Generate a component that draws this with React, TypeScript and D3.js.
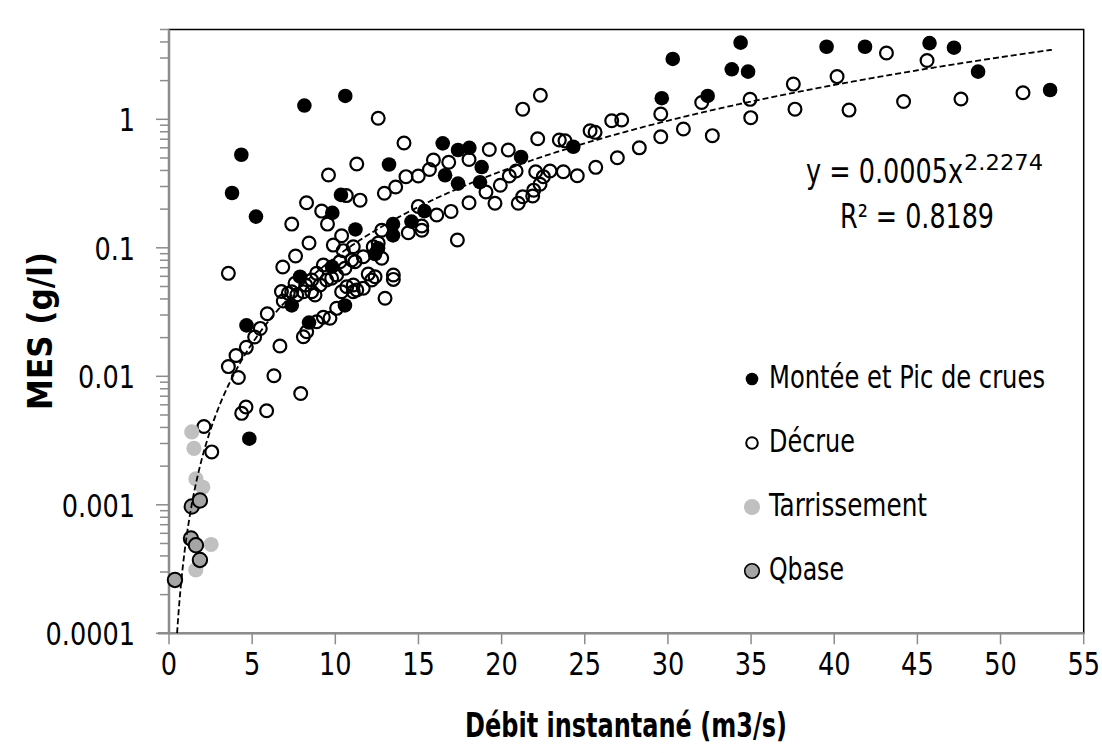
import React, { useEffect, useRef } from 'react';
import * as d3 from 'd3';

// Montée et Pic de crues : [débit m3/s, MES g/l]
const montee: [number, number][] = [
  [8.14, 1.28], [10.6, 1.52], [4.35, 0.53], [3.79, 0.267], [5.23, 0.175], [10.34, 0.258],
  [9.82, 0.187], [11.21, 0.139], [13.23, 0.445], [16.46, 0.65], [17.38, 0.577], [18.06, 0.6],
  [18.8, 0.425], [16.6, 0.367], [17.38, 0.316], [18.7, 0.324], [21.17, 0.509], [15.36, 0.193],
  [14.58, 0.16], [13.47, 0.153], [13.47, 0.125], [12.57, 0.099], [12.39, 0.0895], [9.8, 0.0713],
  [7.88, 0.0596], [7.38, 0.0356], [4.66, 0.0249], [8.42, 0.0262], [10.58, 0.0356], [4.83, 0.00327],
  [24.31, 0.612], [29.63, 1.46], [30.29, 2.95], [32.39, 1.52], [33.84, 2.45], [34.37, 3.95],
  [34.82, 2.35], [39.54, 3.67], [41.85, 3.67], [45.73, 3.92], [47.2, 3.61], [48.65, 2.35],
  [52.98, 1.69],
];

// Décrue
const decrue: [number, number][] = [
  [3.57, 0.0633], [2.1, 0.00407], [2.57, 0.00258], [4.37, 0.00515], [4.63, 0.00577], [5.87, 0.0054],
  [7.92, 0.00735], [6.31, 0.0101], [6.67, 0.0172], [4.17, 0.0098], [3.57, 0.0119], [4.03, 0.0145],
  [4.65, 0.0168], [5.15, 0.0202], [5.49, 0.0236], [5.91, 0.0307], [6.76, 0.0457], [6.87, 0.0386],
  [6.84, 0.0709], [7.61, 0.0863], [8.42, 0.109], [7.38, 0.153], [8.27, 0.224], [9.18, 0.193],
  [9.53, 0.153], [9.59, 0.369], [10.66, 0.255], [10.38, 0.124], [11.29, 0.449], [11.49, 0.235],
  [12.58, 1.02], [14.13, 0.654],
  [9.88, 0.105], [10.48, 0.095], [11.08, 0.102], [10.99, 0.0804], [9.28, 0.0735], [8.88, 0.0633],
  [8.58, 0.0561], [8.22, 0.0513], [7.58, 0.0529], [7.38, 0.0455], [7.68, 0.0429], [8.08, 0.0455],
  [8.58, 0.0455], [8.78, 0.0429], [9.08, 0.0513], [9.48, 0.0561], [9.78, 0.0579], [10.08, 0.0614],
  [10.58, 0.0693], [10.28, 0.078], [11.18, 0.078], [10.69, 0.0498], [11.08, 0.0455], [10.38, 0.0455],
  [10.08, 0.0338], [9.68, 0.0283], [9.28, 0.0288], [8.88, 0.0266], [8.28, 0.0222], [8.08, 0.0203],
  [7.17, 0.0443],
  [12.99, 0.0405], [13.49, 0.0614], [13.49, 0.0568], [12.39, 0.0596], [12.19, 0.0561], [11.98, 0.0625],
  [11.68, 0.0484], [11.29, 0.047], [11.08, 0.0513], [12.79, 0.0829], [12.28, 0.102], [12.58, 0.109],
  [11.68, 0.0852], [15.2, 0.137], [17.34, 0.115], [12.79, 0.137],
  [12.95, 0.266], [13.63, 0.297], [14.25, 0.358], [14.99, 0.362], [15.66, 0.407], [15.9, 0.482],
  [16.82, 0.463], [18.04, 0.487], [19.26, 0.582], [20.4, 0.577], [21.27, 1.2], [22.33, 1.54],
  [22.17, 0.706], [23.47, 0.69], [23.81, 0.68], [22.05, 0.391], [22.91, 0.396], [23.71, 0.391],
  [22.51, 0.358], [22.31, 0.312], [21.93, 0.281], [21.87, 0.253], [21.27, 0.25], [21.0, 0.222],
  [20.87, 0.396], [20.46, 0.362], [19.92, 0.307], [19.06, 0.272], [19.6, 0.222], [18.04, 0.224],
  [16.96, 0.192], [16.1, 0.18], [14.99, 0.21], [15.2, 0.148], [14.39, 0.131],
  [37.54, 1.88], [37.64, 1.2], [34.94, 1.43], [34.98, 1.03], [32.03, 1.35], [30.93, 0.84],
  [32.67, 0.746], [29.57, 1.1], [29.57, 0.732], [28.28, 0.6], [26.96, 0.502], [25.66, 0.423],
  [24.55, 0.364], [26.62, 0.975], [27.22, 0.987], [25.32, 0.815], [25.62, 0.792],
  [43.14, 3.28], [45.58, 2.87], [40.17, 2.15], [40.89, 1.18], [44.17, 1.375], [47.62, 1.44],
  [51.35, 1.61],
];

// Tarrissement
const tarrissement: [number, number][] = [
  [1.37, 0.00369], [1.5, 0.00275], [1.62, 0.00159], [2.03, 0.00137], [2.53, 0.000491], [1.61, 0.000311],
];

// Qbase
const qbase: [number, number][] = [
  [1.37, 0.00097], [1.86, 0.00108], [1.32, 0.000547], [1.62, 0.000484], [1.86, 0.000372], [0.36, 0.00026],
];

const xTicks = [0, 5, 10, 15, 20, 25, 30, 35, 40, 45, 50, 55];
const yTicks = [0.0001, 0.001, 0.01, 0.1, 1];
const yTickLabels = ['0.0001', '0.001', '0.01', '0.1', '1'];

// tendance puissance : y = a x^b
const fitA = 0.0005;
const fitB = 2.2274;
const fitR2 = '0.8189';

const legendItems = ['Montée et Pic de crues', 'Décrue', 'Tarrissement', 'Qbase'];
const legendWidths = [276, 86, 158, 75];

const FONT = "'DejaVu Sans Condensed', 'Liberation Sans Narrow', sans-serif";

// largeur d'un nombre dans la police condensée de l'original
const numWidth = (s: string) => s.split('').reduce((w, c) => w + (c === '.' ? 8 : 16.3), 0);

const App = () => {
  const ref = useRef<SVGSVGElement>(null);

  useEffect(() => {
    const svg = d3.select(ref.current);
    svg.selectAll('*').remove();

    const left = 169, right = 1083.7, top = 29.5, bottom = 633.3;

    const x = d3.scaleLinear().domain([0, 55]).range([left, right]);
    const y = d3.scaleLog().domain([0.0001, 5]).range([bottom, top]);

    svg.append('rect').attr('width', 1102).attr('height', 753).attr('fill', '#fff');

    // cadre
    svg.append('rect')
      .attr('x', left).attr('y', top)
      .attr('width', right - left).attr('height', bottom - top)
      .attr('fill', 'none').attr('stroke', '#000').attr('stroke-width', 1.5);

    // axe Y (log)
    const minor: number[] = [];
    yTicks.forEach(d => {
      for (let k = 2; k <= 9; k++) if (d * k <= 5) minor.push(d * k);
    });
    const gy = svg.append('g');
    gy.selectAll('line.minor').data(minor).enter().append('line')
      .attr('x1', left - 9).attr('x2', left)
      .attr('y1', d => y(d)).attr('y2', d => y(d))
      .attr('stroke', '#8c8c8c').attr('stroke-width', 1.5);
    gy.selectAll('line.major').data(yTicks).enter().append('line')
      .attr('x1', left - 13).attr('x2', left)
      .attr('y1', d => y(d)).attr('y2', d => y(d))
      .attr('stroke', '#8c8c8c').attr('stroke-width', 1.5);
    gy.selectAll('text').data(yTicks).enter().append('text')
      .attr('x', d => 135 - numWidth(yTickLabels[yTicks.indexOf(d)]))
      .attr('y', d => y(d) + 12)
      .attr('textLength', (d, i) => numWidth(yTickLabels[i]))
      .attr('lengthAdjust', 'spacingAndGlyphs')
      .attr('font-family', FONT).attr('font-size', 32)
      .text((d, i) => yTickLabels[i]);
    svg.append('line')
      .attr('x1', left).attr('x2', left).attr('y1', top).attr('y2', bottom + 1)
      .attr('stroke', '#8c8c8c').attr('stroke-width', 2.5);

    // axe X
    const gx = svg.append('g');
    gx.selectAll('line').data(xTicks).enter().append('line')
      .attr('x1', d => x(d)).attr('x2', d => x(d))
      .attr('y1', bottom).attr('y2', bottom + 11)
      .attr('stroke', '#8c8c8c').attr('stroke-width', 1.5);
    gx.selectAll('text').data(xTicks).enter().append('text')
      .attr('x', d => x(d) - numWidth(String(d)) / 2).attr('y', 675)
      .attr('textLength', d => numWidth(String(d)))
      .attr('lengthAdjust', 'spacingAndGlyphs')
      .attr('font-family', FONT).attr('font-size', 32)
      .text(d => String(d));
    svg.append('line')
      .attr('x1', left - 11).attr('x2', right).attr('y1', bottom).attr('y2', bottom)
      .attr('stroke', '#8c8c8c').attr('stroke-width', 2.5);

    // titres
    svg.append('text')
      .attr('x', 465).attr('y', 737)
      .attr('textLength', 322).attr('lengthAdjust', 'spacingAndGlyphs')
      .attr('font-family', FONT).attr('font-size', 33).attr('font-weight', 'bold')
      .text('Débit instantané (m3/s)');
    svg.append('text')
      .attr('transform', 'translate(52,410) rotate(-90)')
      .attr('textLength', 158).attr('lengthAdjust', 'spacingAndGlyphs')
      .attr('font-family', FONT).attr('font-size', 33).attr('font-weight', 'bold')
      .text('MES (g/l)');

    // points
    const plot = svg.append('g');
    plot.selectAll('circle.montee').data(montee).enter().append('circle')
      .attr('cx', d => x(d[0])).attr('cy', d => y(d[1])).attr('r', 7.3)
      .attr('fill', '#000');
    plot.selectAll('circle.decrue').data(decrue).enter().append('circle')
      .attr('cx', d => x(d[0])).attr('cy', d => y(d[1])).attr('r', 6.4)
      .attr('fill', 'none').attr('stroke', '#000').attr('stroke-width', 2.2);
    plot.selectAll('circle.tarr').data(tarrissement).enter().append('circle')
      .attr('cx', d => x(d[0])).attr('cy', d => y(d[1])).attr('r', 7.6)
      .attr('fill', '#c0c0c0');
    plot.selectAll('circle.qbase').data(qbase).enter().append('circle')
      .attr('cx', d => x(d[0])).attr('cy', d => y(d[1])).attr('r', 7.2)
      .attr('fill', '#a5a5a5').attr('stroke', '#000').attr('stroke-width', 2);

    // courbe de tendance
    const xs = d3.range(0.486, 53.1, 0.05);
    const line = d3.line<number>()
      .x(d => x(d))
      .y(d => y(fitA * Math.pow(d, fitB)));
    svg.append('path')
      .datum(xs)
      .attr('d', line)
      .attr('fill', 'none').attr('stroke', '#000').attr('stroke-width', 1.8)
      .attr('stroke-dasharray', '6,3');

    // équation
    svg.append('text')
      .attr('x', 806).attr('y', 183)
      .attr('textLength', 157).attr('lengthAdjust', 'spacingAndGlyphs')
      .attr('font-family', FONT).attr('font-size', 33)
      .text(`y = ${fitA}x`);
    svg.append('text')
      .attr('x', 964).attr('y', 170)
      .attr('textLength', 79).attr('lengthAdjust', 'spacingAndGlyphs')
      .attr('font-family', FONT).attr('font-size', 22)
      .text(String(fitB));
    svg.append('text')
      .attr('x', 840).attr('y', 228)
      .attr('textLength', 154).attr('lengthAdjust', 'spacingAndGlyphs')
      .attr('font-family', FONT).attr('font-size', 33)
      .text(`R² = ${fitR2}`);

    // légende
    const lg = svg.append('g');
    const rows = [379, 443, 507, 571];
    lg.append('circle').attr('cx', 752).attr('cy', rows[0]).attr('r', 6.3).attr('fill', '#000');
    lg.append('circle').attr('cx', 752).attr('cy', rows[1]).attr('r', 5.8)
      .attr('fill', 'none').attr('stroke', '#000').attr('stroke-width', 2);
    lg.append('circle').attr('cx', 752).attr('cy', rows[2]).attr('r', 8).attr('fill', '#c0c0c0');
    lg.append('circle').attr('cx', 752).attr('cy', rows[3]).attr('r', 7.3)
      .attr('fill', '#a5a5a5').attr('stroke', '#000').attr('stroke-width', 1.6);
    lg.selectAll('text').data(legendItems).enter().append('text')
      .attr('x', 769).attr('y', (d, i) => rows[i] + 9)
      .attr('textLength', (d, i) => legendWidths[i]).attr('lengthAdjust', 'spacingAndGlyphs')
      .attr('font-family', FONT).attr('font-size', 32)
      .text(d => d);
  }, []);

  return (
    <svg ref={ref} width={1102} height={753} style={{ position: 'absolute', left: 0, top: 0 }} />
  );
};

export default App;
